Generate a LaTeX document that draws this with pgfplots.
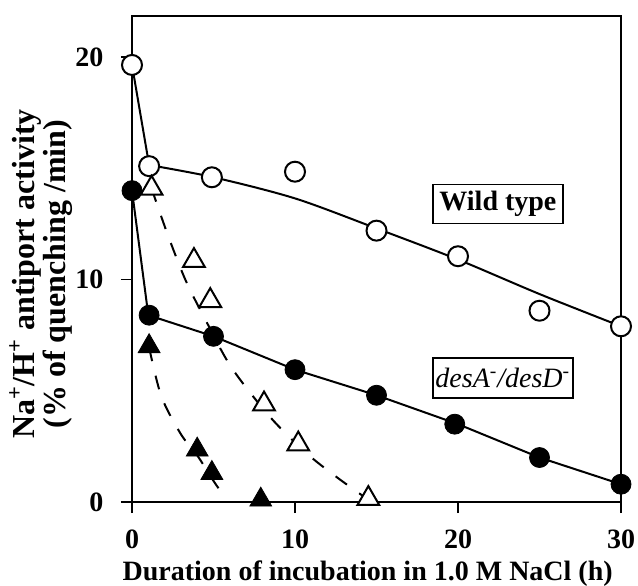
\documentclass[border=0pt]{standalone}
\usepackage{fontspec}
\setmainfont{Liberation Serif}
\usepackage{pgfplots}
\pgfplotsset{compat=1.18}
\begin{document}
\fontsize{14}{13}\selectfont
\begin{tikzpicture}
\begin{axis}[
  width=244.5pt, height=243pt, scale only axis,
  xmin=0, xmax=30, ymin=0, ymax=21.85,
  xtick={0,10,20,30}, ytick={0,10,20},
  xtick pos=bottom, ytick pos=left,
  tick align=outside, major tick length=5.5pt,
  tick style={line width=0.9pt, black},
  axis line style={line width=1.1pt},
  /pgf/number format/assume math mode=true,
  ticklabel style={font=\fontsize{14}{14}\selectfont\bfseries},
  xticklabel style={yshift=-3.5pt},
  yticklabel style={xshift=-4pt},
  xlabel={\textbf{Duration of incubation in 1.0 M NaCl (h)}},
  ylabel={\textbf{Na\textsuperscript{+}/H\textsuperscript{+} antiport activity}\\\textbf{(\% of quenching /min)}},
  ylabel style={align=center, font=\fontsize{16}{13.5}\selectfont, at={(axis description cs:-0.186,0.469)}, anchor=center},
  xlabel style={font=\fontsize{14}{14}\selectfont, at={(axis description cs:0.482,-0.148)}, anchor=center},
  clip=false,
]
% fitted curves
\addplot[line width=1pt, black] coordinates {(0,19.65) (1.05,15.15)};
\addplot[line width=1pt, black, smooth] coordinates {(1.05,15.15) (5,14.6) (10,13.65) (15,12.3) (20,10.9) (25,9.35) (30,7.9)};
\addplot[line width=1pt, black] coordinates {(0,14.0) (1,8.4) (5,7.45) (10,5.95) (15,4.8) (20,3.5) (25,2.0) (30,0.8)};
\addplot[line width=1pt, black, dash pattern=on 7pt off 7.5pt, smooth] coordinates {(1.2,14.1) (2.2,12.0) (3.3,9.95) (4.5,8.2) (6.1,6.05) (8.5,3.8) (10.7,2.2) (12.5,1.15) (14.5,0.1)};
\addplot[line width=1pt, black, dash pattern=on 7pt off 7.5pt, smooth] coordinates {(1.05,6.95) (1.8,4.75) (3.0,3.05) (4.0,2.1) (5.0,0.95) (5.8,0.1)};
% data
\addplot[only marks, mark=*, mark size=5pt, mark options={fill=white, draw=black, line width=1pt}] coordinates {(0,19.65) (1.05,15.1) (4.9,14.6) (10,14.85) (15,12.2) (20,11.05) (25,8.6) (30,7.9)};
\addplot[only marks, mark=*, mark size=5pt, mark options={fill=black, draw=black}] coordinates {(0,14.0) (1.05,8.4) (5,7.45) (10,5.95) (15,4.8) (19.8,3.5) (25,2.0) (30,0.8)};
\addplot[only marks, mark=triangle*, mark size=6.3pt, mark options={fill=white, draw=black, line width=1pt}] coordinates {(1.2,14.1) (3.8,10.85) (4.8,9.05) (8.1,4.4) (10.2,2.6) (14.5,0.15)};
\addplot[only marks, mark=triangle*, mark size=6.3pt, mark options={fill=black, draw=black}] coordinates {(1.05,7.0) (4.0,2.35) (4.9,1.3) (7.9,0.1)};
\node[draw, line width=0.8pt, minimum width=65pt, minimum height=19.5pt, inner sep=0pt, font=\fontsize{14}{14}\selectfont] at (axis cs:22.45,13.4) {\textbf{Wild type}};
\node[draw, line width=0.8pt, minimum width=70pt, minimum height=20pt, inner sep=0pt, font=\fontsize{14}{14}\selectfont] at (axis cs:22.75,5.57) {\textit{desA\textsuperscript{-}/desD\textsuperscript{-}}};
\end{axis}
\pgfresetboundingbox
\path[use as bounding box] ([shift={(-66pt,-41.5pt)}]current axis.south west) rectangle ([shift={(8.5pt,8pt)}]current axis.north east);
\end{tikzpicture}
\end{document}
